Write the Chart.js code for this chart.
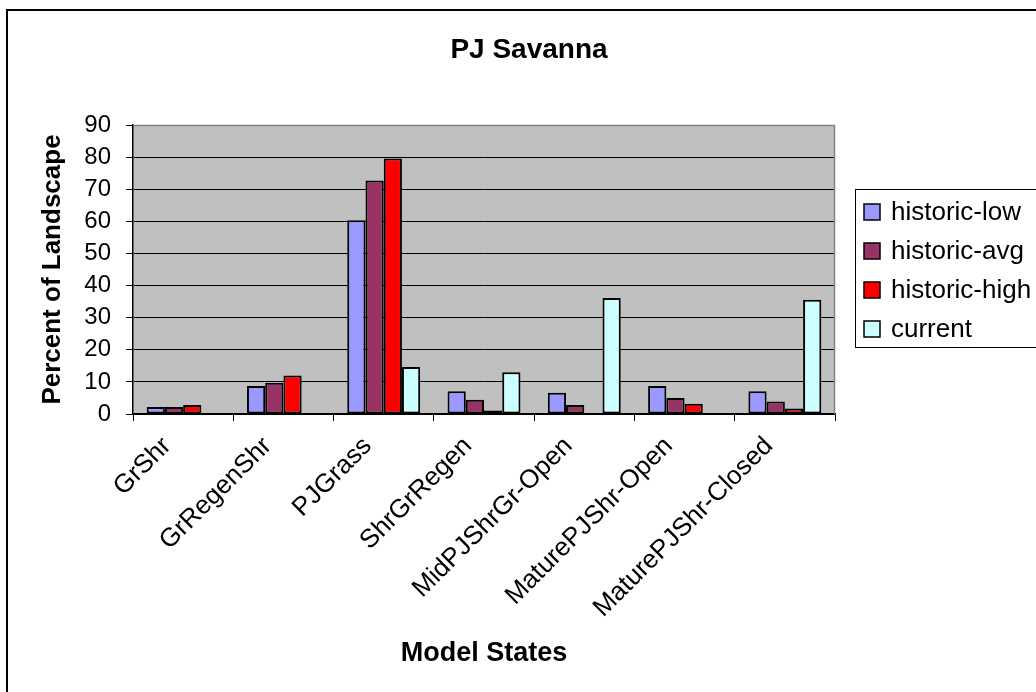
<!DOCTYPE html>
<html>
<head>
<meta charset="utf-8">
<script src="https://cdn.jsdelivr.net/npm/chart.js@4/dist/chart.umd.min.js"></script>
<style>
  html, body { margin: 0; padding: 0; background: #fff; overflow: hidden; }
  #wrap { position: absolute; left: 0; top: 0; width: 1036px; height: 692px; }
</style>
</head>
<body>
<div id="wrap"><canvas id="c" width="1036" height="692"></canvas></div>
<script>
const chartTitle = 'PJ Savanna';
const categories = ['GrShr', 'GrRegenShr', 'PJGrass', 'ShrGrRegen', 'MidPJShrGr-Open', 'MaturePJShr-Open', 'MaturePJShr-Closed'];
const historicLow  = [2.2, 8.7, 60.3, 7.1, 6.6, 8.7, 7.1];
const historicAvg  = [2.2, 9.7, 72.7, 4.4, 2.8, 5.0, 3.9];
const historicHigh = [2.8, 12.0, 79.6, 1.1, null, 3.2, 1.7];
const current      = [null, null, 14.6, 13.0, 36.1, null, 35.6];
const seriesNames  = ['historic-low', 'historic-avg', 'historic-high', 'current'];
const seriesColors = ['#9999FF', '#993366', '#FF0000', '#CCFFFF'];
const yTicks = [0, 10, 20, 30, 40, 50, 60, 70, 80, 90];

const PLOT = { left: 133, right: 835, top: 125, bottom: 414 };
const FONT = 'Arial, "Liberation Sans", sans-serif';

const bgPlugin = {
  id: 'bg',
  beforeDraw(chart) {
    const ctx = chart.ctx, a = chart.chartArea;
    ctx.save();
    ctx.fillStyle = '#ffffff';
    ctx.fillRect(0, 0, chart.width, chart.height);
    ctx.fillStyle = '#C0C0C0';
    ctx.fillRect(a.left, a.top, a.right - a.left, a.bottom - a.top);
    ctx.restore();
  },
  afterDraw(chart) {
    const ctx = chart.ctx, a = chart.chartArea;
    ctx.save();
    // plot frame top/right in gray
    ctx.strokeStyle = '#808080';
    ctx.lineWidth = 1.5;
    ctx.beginPath();
    ctx.moveTo(a.left, a.top + 0.5);
    ctx.lineTo(a.right - 0.5, a.top + 0.5);
    ctx.lineTo(a.right - 0.5, a.bottom);
    ctx.stroke();
    // outer chart border (left and top visible)
    ctx.fillStyle = '#000';
    ctx.fillRect(6, 9, 2, chart.height);
    ctx.fillRect(6, 9, chart.width, 2);
    // title
    ctx.font = 'bold 28px ' + FONT;
    ctx.textAlign = 'center';
    ctx.textBaseline = 'middle';
    ctx.fillText(chartTitle, 529, 50);
    // legend
    const lx = 855, ly = 189, lw = 200, lh = 158;
    ctx.fillStyle = '#fff';
    ctx.fillRect(lx, ly, lw, lh);
    ctx.strokeStyle = '#000';
    ctx.lineWidth = 1;
    ctx.strokeRect(lx + 0.5, ly + 0.5, lw, lh);
    ctx.font = '26px ' + FONT;
    ctx.textBaseline = 'middle';
    ctx.textAlign = 'left';
    chart.data.datasets.forEach((ds, i) => {
      const cy = 212 + i * 39;
      ctx.fillStyle = ds.backgroundColor;
      ctx.fillRect(864, cy - 8, 16, 16);
      ctx.strokeStyle = '#000';
      ctx.lineWidth = 1.5;
      ctx.strokeRect(864, cy - 8, 16, 16);
      ctx.fillStyle = '#000';
      ctx.fillText(ds.label, 891, cy + 1);
    });
    ctx.restore();
  }
};

const datasets = [historicLow, historicAvg, historicHigh, current].map((vals, i) => ({
  label: seriesNames[i],
  data: vals,
  backgroundColor: seriesColors[i],
  borderColor: '#000',
  borderWidth: 2,
  borderSkipped: false,
  categoryPercentage: 4 / 5.5,
  barPercentage: 1.0
}));

new Chart(document.getElementById('c'), {
  type: 'bar',
  data: { labels: categories, datasets },
  plugins: [bgPlugin],
  options: {
    responsive: false,
    animation: false,
    devicePixelRatio: 1,
    layout: { padding: { left: 0, right: 1036 - PLOT.right, top: PLOT.top, bottom: 0 } },
    plugins: {
      legend: { display: false },
      tooltip: { enabled: false },
      title: { display: false }
    },
    scales: {
      y: {
        min: 0, max: 90,
        afterBuildTicks(scale) { scale.ticks = yTicks.map(v => ({ value: v })); },
        afterFit(scale) { scale.width = PLOT.left; },
        ticks: {
          color: '#000',
          padding: 15,
          font: { family: FONT, size: 24 }
        },
        grid: {
          color: ctx => (ctx.tick && ctx.tick.value === 90) ? '#808080' : '#000',
          tickColor: '#000',
          tickLength: 7,
          lineWidth: 1
        },
        border: { color: '#000', width: 1.5 },
        title: {
          display: true,
          text: 'Percent of Landscape',
          color: '#000',
          font: { family: FONT, size: 26, weight: 'bold', lineHeight: 1.2 },
          padding: { top: 37, bottom: 0 }
        }
      },
      x: {
        afterFit(scale) { scale.height = 692 - PLOT.bottom; },
        ticks: {
          color: '#000',
          autoSkip: false,
          minRotation: 45,
          maxRotation: 45,
          padding: 10,
          labelOffset: -16,
          font: { family: FONT, size: 26 }
        },
        grid: {
          offset: true,
          drawOnChartArea: false,
          drawTicks: true,
          tickLength: 7,
          color: '#000'
        },
        border: { color: '#000', width: 1.5 },
        title: {
          display: true,
          text: 'Model States',
          color: '#000',
          font: { family: FONT, size: 27, weight: 'bold', lineHeight: 1.2 },
          padding: { top: 0, bottom: 22 }
        }
      }
    }
  }
});
</script>
</body>
</html>
